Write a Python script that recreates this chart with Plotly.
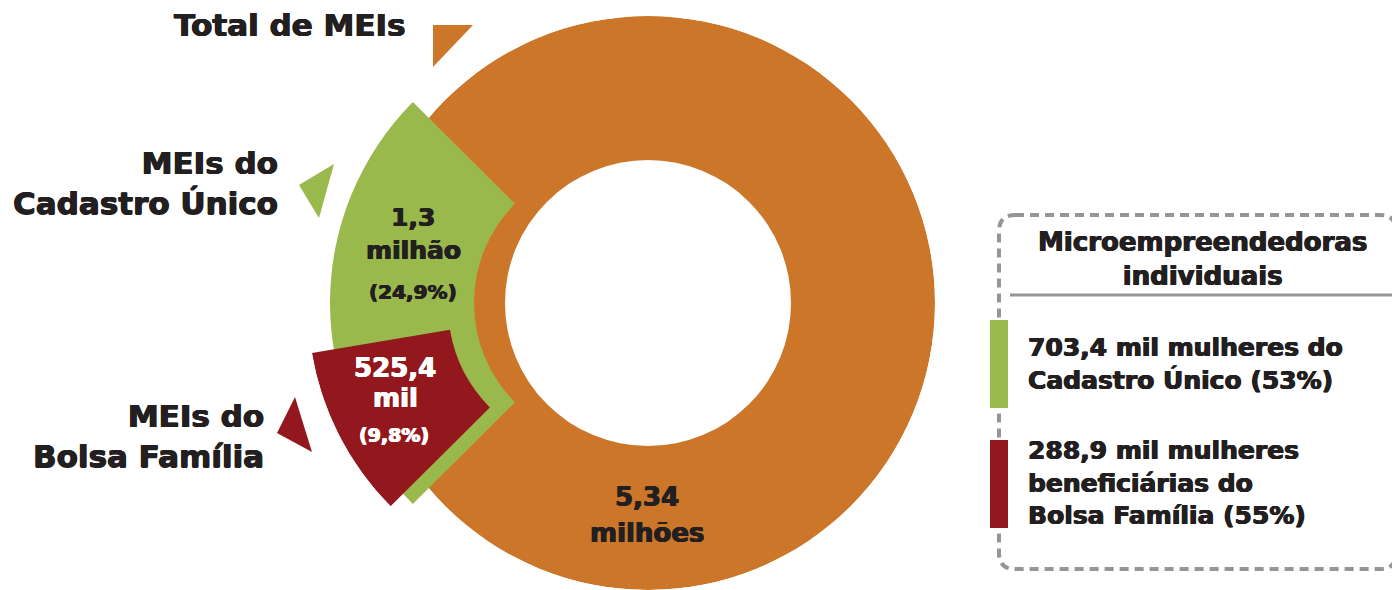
import plotly.graph_objects as go

# ---------------- data ----------------
categories = ["Total de MEIs", "MEIs do<br>Cadastro Único", "MEIs do<br>Bolsa Família"]
values_mi = [5.34, 1.3, 0.5254]          # milhões de MEIs
shares_pct = [100.0, 24.9, 9.8]          # % do total
value_line1 = ["5,34", "1,3", "525,4"]
value_line2 = ["milhões", "milhão", "mil"]
share_labels = ["", "(24,9%)", "(9,8%)"]

legend_title = "Microempreendedoras<br>individuais"
women_values = ["703,4", "288,9"]
women_shares = [53, 55]
legend_texts = [
    f"{women_values[0]} mil mulheres do<br>Cadastro Único ({women_shares[0]}%)",
    f"{women_values[1]} mil mulheres<br>beneficiárias do<br>Bolsa Família ({women_shares[1]}%)",
]

# ---------------- style ----------------
OFF = 8                      # page body margin
W, H = 1400 - OFF, 590 - OFF
ORANGE = "#CB7628"
GREEN = "#9AB94D"
RED = "#93181E"
DARK = "#231F20"
GRAY = "#939598"
colors = [ORANGE, GREEN, RED]
FONT = "DejaVu Sans"

# helpers: screen pixel -> paper fraction
def X(px):
    return (px - OFF) / W

def Y(py):
    return 1 - (py - OFF) / H

# each ring piece lives in its own polar subplot (exploded slices)
centers = [(648, 303), (615, 303), (592, 306)]
radii = [287, 287, 284]      # polar radius in px (radial axis unit = 1px)
inner = [143, 141, 144]
outer = [287, 285, 284]

# angular placement derived from the shares
widths = [s * 3.6 for s in shares_pct]
thetas = [90, 180, 180 + (widths[1] - widths[2]) / 2]

fig = go.Figure()
layout_polars = {}
for i in range(3):
    name = "polar" if i == 0 else f"polar{i+1}"
    fig.add_trace(go.Barpolar(
        r=[outer[i] - inner[i]],
        base=[inner[i]],
        theta=[thetas[i]],
        width=[widths[i]],
        marker=dict(color=colors[i], line=dict(width=0)),
        subplot=name,
        name=categories[i],
        customdata=[values_mi[i]],
        hoverinfo="skip",
    ))
    cx, cy = centers[i]
    R = radii[i]
    layout_polars[name] = dict(
        domain=dict(x=[X(cx - R), X(cx + R)],
                    y=[max(0.0, Y(cy + R)), min(1.0, Y(cy - R))]),
        bgcolor="rgba(0,0,0,0)",
        radialaxis=dict(visible=False, range=[0, R]),
        angularaxis=dict(visible=False, rotation=0, direction="counterclockwise"),
    )

annotations = []

def add_text(text, px, py, size, color=DARK, xanchor="center", align="center"):
    heavy = f"0.6px 0px 0px {color}, -0.6px 0px 0px {color}, 0px 0.4px 0px {color}"
    annotations.append(dict(
        text=text, x=X(px), y=Y(py), xref="paper", yref="paper",
        xanchor=xanchor, yanchor="middle", align=align, showarrow=False,
        font=dict(family=FONT, size=size, color=color, weight="bold", shadow=heavy),
    ))

# left category labels
add_text(categories[0], 408, 25, 31, xanchor="right", align="right")
add_text(categories[1], 280, 183, 31, xanchor="right", align="right")
add_text(categories[2], 266, 436, 31, xanchor="right", align="right")

# values in the slices
add_text(value_line1[0], 647, 497, 26)
add_text(value_line2[0], 647, 533, 26)
add_text(value_line1[1], 413, 217, 25)
add_text(value_line2[1], 413, 250, 25)
add_text(share_labels[1], 413, 292, 20)
add_text(value_line1[2], 395, 368, 26, color="white")
add_text(value_line2[2], 395, 398, 26, color="white")
add_text(share_labels[2], 394, 435, 19, color="white")

# legend box texts
add_text(legend_title, 1202, 259, 26)
add_text(legend_texts[0], 1026, 364, 25, xanchor="left", align="left")
add_text(legend_texts[1], 1026, 483, 25, xanchor="left", align="left")

shapes = []

def tri(pts, color):
    path = "M " + " L ".join(f"{X(a):.5f},{Y(b):.5f}" for a, b in pts) + " Z"
    shapes.append(dict(type="path", path=path, xref="paper", yref="paper",
                       fillcolor=color, line=dict(width=0)))

tri([(433, 25), (473, 25), (433, 67)], ORANGE)
tri([(299, 185), (334, 164), (319, 218)], GREEN)
tri([(295, 397), (277, 433), (312, 452)], RED)

# dashed rounded box
x0, x1, y0, y1, rc = 999, 1396, 215, 569, 16
p = [
    f"M {X(x0 + rc):.5f},{Y(y0):.5f}",
    f"L {X(x1 - rc):.5f},{Y(y0):.5f}",
    f"Q {X(x1):.5f},{Y(y0):.5f} {X(x1):.5f},{Y(y0 + rc):.5f}",
    f"L {X(x1):.5f},{Y(y1 - rc):.5f}",
    f"Q {X(x1):.5f},{Y(y1):.5f} {X(x1 - rc):.5f},{Y(y1):.5f}",
    f"L {X(x0 + rc):.5f},{Y(y1):.5f}",
    f"Q {X(x0):.5f},{Y(y1):.5f} {X(x0):.5f},{Y(y1 - rc):.5f}",
    f"L {X(x0):.5f},{Y(y0 + rc):.5f}",
    f"Q {X(x0):.5f},{Y(y0):.5f} {X(x0 + rc):.5f},{Y(y0):.5f}",
]
shapes.append(dict(type="path", path=" ".join(p), xref="paper", yref="paper",
                   line=dict(color=GRAY, width=4, dash="9px,6px")))

# separator under title
shapes.append(dict(type="line", x0=X(1010), x1=X(1395), y0=Y(295), y1=Y(295),
                   xref="paper", yref="paper", line=dict(color=GRAY, width=3)))

# colour swatches
shapes.append(dict(type="rect", x0=X(990), x1=X(1008), y0=Y(408), y1=Y(320),
                   xref="paper", yref="paper", fillcolor=GREEN, line=dict(width=0)))
shapes.append(dict(type="rect", x0=X(990), x1=X(1008), y0=Y(528), y1=Y(440),
                   xref="paper", yref="paper", fillcolor=RED, line=dict(width=0)))

fig.update_layout(
    width=W, height=H,
    margin=dict(l=0, r=0, t=0, b=0, pad=0),
    paper_bgcolor="white", plot_bgcolor="white",
    showlegend=False,
    annotations=annotations,
    shapes=shapes,
    **layout_polars,
)

fig.write_html("out.html")
